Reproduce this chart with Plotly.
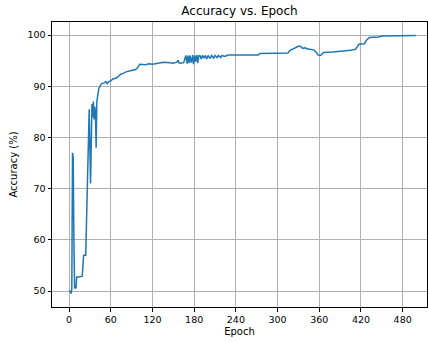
import plotly.graph_objects as go

epochs = [0, 1, 2, 3, 4, 5, 6, 7, 8, 9, 10, 11, 12, 19, 20, 21, 24, 25, 27, 28, 29, 30, 31, 32, 33, 34, 35, 36, 37, 38, 39, 40, 41, 42, 43, 45, 47, 50, 53, 55, 57, 60, 63, 68, 72, 75, 78, 82, 88, 95, 98, 100, 102,
          110, 115, 120, 128, 136, 145, 150, 155, 157, 158, 160, 165,
          168, 170, 171, 173, 174, 176, 178, 179, 181, 182, 184, 185, 187, 189, 190, 192, 194, 196, 198, 200, 203, 205, 208, 210, 213, 215, 218, 220, 224, 229,
          272, 275, 315, 318, 325, 330, 333, 336, 340, 342, 352, 356, 358, 361, 363, 366, 380, 395, 405, 412, 414, 417, 425, 428, 432, 445, 450, 470, 499]
accuracy = [50.0, 50.0, 49.8, 49.5, 50.5, 77.0, 76.0, 60.0, 50.5, 51.0, 50.5, 52.8, 52.7, 52.9, 56.5, 57.0, 57.0, 63.0, 75.0, 80.0, 85.5, 78.0, 71.0, 79.0, 86.5, 84.0, 87.0, 83.5, 86.0, 85.0, 78.0, 87.0, 88.0, 89.0, 89.6, 90.1, 90.5, 90.6, 90.9, 90.5, 90.9, 91.0, 91.4, 91.6, 92.0, 92.4, 92.5, 92.8, 93.0, 93.2, 93.5, 94.0, 94.3,
            94.2, 94.4, 94.3, 94.5, 94.7, 94.6, 94.5, 94.7, 95.1, 94.6, 94.5, 94.6,
            96.0, 94.4, 96.0, 94.5, 96.0, 94.6, 96.1, 94.3, 96.0, 94.8, 96.1, 94.5, 96.0, 95.9, 95.3, 96.0, 95.5, 96.0, 95.3, 96.0, 95.4, 96.0, 95.5, 96.0, 95.6, 96.0, 95.6, 96.0, 95.8, 96.1,
            96.1, 96.4, 96.5, 97.0, 97.4, 97.8, 97.8, 97.4, 97.5, 97.3, 97.1, 96.6, 96.1, 96.0, 96.1, 96.6, 96.7, 96.8, 97.0, 97.2, 97.7, 98.2, 98.3, 99.0, 99.5, 99.6, 99.8, 99.85, 99.9]

x_ticks = [0, 60, 120, 180, 240, 300, 360, 420, 480]
y_ticks = [50, 60, 70, 80, 90, 100]

fig = go.Figure()
fig.add_trace(go.Scatter(x=epochs, y=accuracy, mode="lines",
                         line=dict(color="#1f77b4", width=1.5), showlegend=False))

font = "DejaVu Sans, sans-serif"
axis_common = dict(showgrid=True, gridcolor="#b0b0b0", gridwidth=1,
                   showline=True, linecolor="black", linewidth=1, mirror=True,
                   ticks="outside", ticklen=3.5, tickcolor="black", tickwidth=1,
                   zeroline=False, automargin=False,
                   tickfont=dict(family=font, size=9.5, color="black"))

fig.update_layout(
    width=428, height=342,
    margin=dict(l=52, r=1, t=22, b=35),
    paper_bgcolor="white", plot_bgcolor="white",
    title=dict(text="Accuracy vs. Epoch", x=0.5, xref="paper", xanchor="center",
               y=1 - 11 / 342, yref="container", yanchor="middle",
               font=dict(family=font, size=12, color="black")),
    xaxis=dict(range=[-24.5, 515], tickvals=x_ticks, ticktext=[str(v) for v in x_ticks],
               title=dict(text="Epoch", font=dict(family=font, size=10, color="black"), standoff=4),
               **axis_common),
    yaxis=dict(range=[46.875, 102.54], tickvals=y_ticks, ticktext=[str(v) for v in y_ticks],
               title=dict(text="Accuracy (%)", font=dict(family=font, size=10, color="black"), standoff=7),
               **axis_common),
)

fig.write_html("out.html", config={"displayModeBar": False},
               post_script="document.body.style.margin='0';")
